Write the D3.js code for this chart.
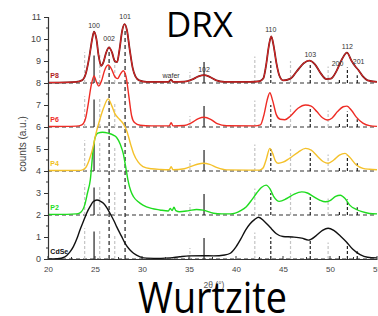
<!DOCTYPE html>
<html><head><meta charset="utf-8">
<script src="https://cdn.jsdelivr.net/npm/d3@7"></script>
<style>html,body{margin:0;padding:0;background:#fff;}svg{display:block;}</style>
</head><body>
<svg id="c" width="378" height="316"></svg>
<script>
// ---- data ----
const seriesNames = ["CdSe", "P2", "P4", "P6", "P8"];
const offsets = [0, 2, 4, 6, 8];
const xTicks = [20, 25, 30, 35, 40, 45, 50, 55];
const yTicks = [0,1,2,3,4,5,6,7,8,9,10,11];

const cdseT = [20,21,21.8,22.3,22.7,23.1,23.4,23.8,24.1,24.5,24.8,25.2,25.6,25.9,26.3,26.6,27,27.3,27.8,28.2,28.7,29.1,29.8,30.5,32,33,34,35,36.5,37.6,38.8,39.4,40,40.5,41,41.5,42,42.4,43,43.6,44.3,45,46,47,47.7,48.5,49.2,49.8,50.4,51.1,51.8,52.4,53.2,54,55];
const cdseV = [0,0.01,0.1,0.3,0.56,0.95,1.32,1.75,2.07,2.4,2.6,2.68,2.62,2.53,2.3,2.07,1.75,1.47,1.05,0.71,0.42,0.26,0.1,0.04,0.03,0.05,0.1,0.14,0.15,0.14,0.18,0.26,0.55,0.9,1.3,1.6,1.8,1.9,1.72,1.45,1.15,1.02,1.0,0.95,0.86,1.05,1.3,1.4,1.3,1.05,0.75,0.45,0.2,0.08,0.05];

const p2T = [20,21,22,23,23.4,23.9,24.2,24.5,24.8,25,25.3,25.8,26.4,27,27.3,27.7,28,28.3,28.5,28.8,29.1,29.6,30.1,31,31.9,32.8,33,33.2,33.4,33.6,34,35,35.8,36.5,37.6,38.5,39.4,40.5,41.1,41.7,42.2,42.7,43.2,43.6,44,44.6,45.4,46.2,47,47.6,48.2,48.9,49.5,50,50.6,51.1,51.6,52.1,52.8,53.4,54.2,55];
const p2V = [2.02,2.03,2.03,2.05,2.1,2.45,3.0,3.6,4.95,5.5,5.72,5.76,5.72,5.62,5.52,5.2,4.8,4.1,3.6,3.1,2.83,2.6,2.45,2.3,2.23,2.18,2.3,2.2,2.35,2.2,2.15,2.2,2.25,2.22,2.08,2.05,2.05,2.2,2.38,2.7,3.0,3.25,3.36,3.2,2.85,2.62,2.75,2.95,3.05,3.0,2.85,2.68,2.6,2.65,2.85,2.9,2.75,2.45,2.25,2.15,2.07,2.05];

const p4T = [20,23.5,24,24.5,24.8,25.1,25.5,25.9,26.4,26.8,27.1,27.6,28,28.4,28.8,29.1,29.6,30.1,31,32,32.9,33.1,33.3,34.5,35.3,36,36.5,37.2,38,39,42.5,42.9,43.2,43.6,43.9,44.2,44.5,45,45.7,46.6,47.4,48,48.7,49.3,49.8,50.4,51,51.6,52.1,52.8,53.5,54.2,55];
const p4V = [4.02,4.03,4.15,4.65,5.1,5.7,6.32,6.85,7.28,6.95,6.62,6.35,6.15,5.8,5.2,4.8,4.4,4.2,4.1,4.07,4.06,4.2,4.06,4.1,4.22,4.32,4.35,4.3,4.15,4.05,4.04,4.15,4.5,5.03,4.8,4.45,4.35,4.4,4.58,4.85,5.03,4.95,4.65,4.42,4.35,4.5,4.72,4.8,4.62,4.27,4.12,4.08,4.06];

const p6T = [20,23,23.6,24,24.3,24.6,24.9,25.15,25.4,25.7,26,26.4,26.8,27.1,27.4,27.7,28,28.3,28.6,28.9,29.2,29.8,31,32.9,33.1,33.3,34.5,35.3,36,36.6,37.3,38,39,42,42.6,43,43.3,43.6,43.9,44.3,44.7,45.2,45.8,46.6,47.4,48,48.6,49.2,49.7,50.2,50.8,51.4,51.8,52.3,52.8,53.5,54.2,55];
const p6V = [6.02,6.04,6.1,6.4,7.1,7.9,8.32,8.05,7.86,8.1,8.55,8.82,8.6,8.3,8.2,8.4,8.56,8.3,7.4,6.5,6.2,6.08,6.05,6.05,6.2,6.05,6.07,6.2,6.38,6.44,6.35,6.15,6.06,6.05,6.1,6.6,7.2,7.56,7.2,6.55,6.35,6.33,6.5,6.85,7.0,6.95,6.7,6.42,6.32,6.4,6.7,6.92,6.95,6.75,6.45,6.18,6.06,6.03];

const p8T = [20,22,23,23.6,24,24.4,24.7,24.9,25.15,25.4,25.65,25.9,26.2,26.5,26.8,27.1,27.35,27.6,27.9,28.15,28.4,28.7,29,29.3,29.7,30.5,32.8,33.1,33.3,34.5,35.3,36,36.6,37.2,37.9,38.8,41.5,42.5,42.9,43.2,43.5,43.75,44,44.3,44.6,45,45.8,46.5,47.2,47.8,48.4,49,49.6,50.1,50.7,51.3,51.8,52.3,52.7,53,53.5,54,55];
const p8V = [8.02,8.03,8.05,8.12,8.4,9.2,10.0,10.33,10.0,9.2,8.78,8.95,9.4,9.62,9.4,9.0,8.95,9.5,10.4,10.68,10.4,9.5,8.7,8.3,8.12,8.05,8.05,8.15,8.05,8.06,8.15,8.3,8.36,8.28,8.12,8.05,8.05,8.08,8.2,8.8,9.7,10.12,9.7,8.9,8.35,8.12,8.2,8.55,8.9,9.02,8.85,8.45,8.18,8.2,8.55,9.1,9.38,9.0,8.75,8.6,8.3,8.12,8.05];

// reference sticks
const refGrayPos = [23.9, 25.5, 27.1, 35.1, 42.0, 45.8, 49.8];
const refGrayH   = [1.4, 1.3, 1.1, 0.5, 1.2, 1.0, 0.75];
const refDarkPos = [24.9, 36.6, 43.7, 47.9, 51.0, 51.85, 52.9];
const refDarkH   = [1.25, 0.95, 1.0, 0.85, 0.2, 0.7, 0.35];
const refDarkDash = [false, false, true, true, true, true, true];
const longRefPos = [26.5, 28.2];
const longRefTop = [9.6, 10.5];

const peakLabels = ["100","002","101","wafer","102","110","103","200","112","201"];
const peakLabelT = [24.9, 26.5, 28.2, 33.1, 36.6, 43.7, 47.9, 50.8, 51.85, 53.05];
const peakLabelV = [10.5, 9.9, 10.9, 8.25, 8.5, 10.3, 9.18, 8.78, 9.55, 8.85];

// ---- drawing ----
const svg = d3.select("#c");
const x = d3.scaleLinear().domain([20, 55]).range([48, 377]);
const y = d3.scaleLinear().domain([0, 11]).range([259, 17]);

const colors = ["#111111", "#1fdc1f", "#f4c12b", "#ee2b24", "#e02a2a"];
const data = [
  d3.zip(cdseT, cdseV), d3.zip(p2T, p2V), d3.zip(p4T, p4V), d3.zip(p6T, p6V), d3.zip(p8T, p8V)
];

const plot = svg.append("g");
plot.selectAll("line.base").data(offsets).join("line")
  .attr("x1", x(20)).attr("x2", x(55))
  .attr("y1", d => y(d)).attr("y2", d => y(d))
  .attr("stroke", "#333").attr("stroke-width", 1.1).attr("stroke-dasharray", "4,3");

offsets.forEach(o => {
  refGrayPos.forEach((p, i) => {
    plot.append("line").attr("x1", x(p)).attr("x2", x(p))
      .attr("y1", y(o)).attr("y2", y(o + refGrayH[i]))
      .attr("stroke", "#c4c4c4").attr("stroke-width", 1.2).attr("stroke-dasharray", "3,2");
  });
  refDarkPos.forEach((p, i) => {
    plot.append("line").attr("x1", x(p)).attr("x2", x(p))
      .attr("y1", y(o)).attr("y2", y(o + refDarkH[i]))
      .attr("stroke", "#222").attr("stroke-width", 1.2)
      .attr("stroke-dasharray", refDarkDash[i] ? "3,2" : null);
  });
});
longRefPos.forEach((p, i) => {
  plot.append("line").attr("x1", x(p)).attr("x2", x(p))
    .attr("y1", y(0)).attr("y2", y(longRefTop[i]))
    .attr("stroke", "#222").attr("stroke-width", 1.2).attr("stroke-dasharray", "4,3");
});

const line = d3.line().x(d => x(d[0])).y(d => y(d[1])).curve(d3.curveMonotoneX);
data.forEach((d, i) => {
  if (i === 4) {
    plot.append("path").attr("d", line(d)).attr("fill", "none")
      .attr("stroke", "#6e1414").attr("stroke-width", 1.8);
    plot.append("path").attr("d", line(d)).attr("fill", "none")
      .attr("stroke", colors[i]).attr("stroke-width", 1.0);
  } else {
    plot.append("path").attr("d", line(d)).attr("fill", "none")
      .attr("stroke", colors[i]).attr("stroke-width", 1.4);
  }
});

const labelColors = ["#111", "#22dd22", "#f0c020", "#ee2a24", "#b01c1c"];
seriesNames.forEach((n, i) => {
  svg.append("text").attr("x", x(20.25)).attr("y", y(offsets[i] + 0.22))
    .attr("font-family", "Liberation Sans, Arial, sans-serif").attr("font-size", 7)
    .attr("font-weight", "bold").attr("fill", labelColors[i]).text(n);
});

peakLabels.forEach((n, i) => {
  svg.append("text").attr("x", x(peakLabelT[i])).attr("y", y(peakLabelV[i]))
    .attr("text-anchor", "middle")
    .attr("font-family", "Liberation Sans, Arial, sans-serif").attr("font-size", 7)
    .attr("fill", "#333").text(n);
});

const xAxis = d3.axisBottom(x).tickValues(xTicks).tickSize(0).tickPadding(7).tickFormat(d3.format("d"));
const gx = svg.append("g").attr("transform", `translate(0,${y(0)})`).call(xAxis);
gx.select(".domain").attr("stroke", "#333").attr("stroke-width", 1.2);
gx.selectAll("text").attr("font-family", "Liberation Sans, Arial, sans-serif").attr("font-size", 8).attr("fill", "#444");
const xMinor = d3.range(20, 55.1, 2.5);
gx.selectAll("line.mt").data(xMinor).join("line").attr("class", "mt")
  .attr("x1", d => x(d)).attr("x2", d => x(d))
  .attr("y1", 0).attr("y2", d => (d % 5 === 0 ? -3 : -2))
  .attr("stroke", "#333").attr("stroke-width", 1);

const yAxis = d3.axisLeft(y).tickValues(yTicks).tickSize(4).tickPadding(3).tickFormat(d3.format("d"));
const gy = svg.append("g").attr("transform", `translate(${x(20)},0)`).call(yAxis);
gy.select(".domain").attr("stroke", "#333").attr("stroke-width", 1.2);
gy.selectAll(".tick line").attr("stroke", "#333");
gy.selectAll("text").attr("font-family", "Liberation Sans, Arial, sans-serif").attr("font-size", 9).attr("fill", "#444");
gy.selectAll("line.mt").data(d3.range(0.5, 11, 1)).join("line").attr("class", "mt")
  .attr("x1", 0).attr("x2", -2).attr("y1", d => y(d)).attr("y2", d => y(d))
  .attr("stroke", "#333");

svg.append("text").attr("transform", `translate(26,144) rotate(-90)`)
  .attr("text-anchor", "middle").attr("font-family", "Liberation Sans, Arial, sans-serif")
  .attr("font-size", 10).attr("fill", "#444").text("counts (a.u.)");
svg.append("text").attr("x", 214).attr("y", 288).attr("text-anchor", "middle")
  .attr("font-family", "Liberation Sans, Arial, sans-serif").attr("font-size", 8.5)
  .attr("fill", "#555").text("2θ (°)");

svg.append("text").attr("x", 166).attr("y", 37)
  .attr("font-family", "Open Sans, sans-serif").attr("font-size", 34).attr("fill", "#000")
  .attr("textLength", 67).attr("lengthAdjust", "spacingAndGlyphs").text("DRX");
svg.append("text").attr("x", 138).attr("y", 313)
  .attr("font-family", "Open Sans, sans-serif").attr("font-size", 44).attr("fill", "#000")
  .attr("textLength", 149).attr("lengthAdjust", "spacingAndGlyphs").text("Wurtzite");
</script>
</body></html>
